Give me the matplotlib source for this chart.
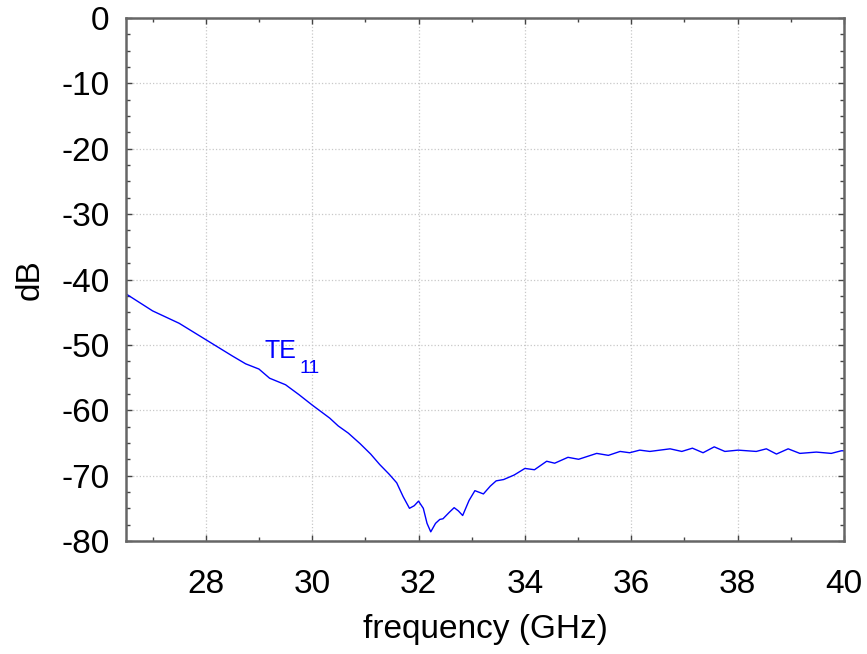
import matplotlib
matplotlib.use("Agg")
import matplotlib.pyplot as plt
from matplotlib.ticker import MultipleLocator

plt.rcParams['font.family'] = ['Liberation Sans', 'DejaVu Sans']
plt.rcParams['axes.unicode_minus'] = False

# TE11 reflection
freq = [26.5, 27.0, 27.5, 27.86, 28.0, 28.5, 28.75, 29.0, 29.2, 29.5, 29.75,
        30.0, 30.33, 30.49, 30.68, 30.9, 31.1, 31.27, 31.45, 31.59, 31.71, 31.83, 31.92, 32.0,
        32.09, 32.16, 32.23, 32.32, 32.4, 32.46, 32.58, 32.67, 32.75, 32.83, 32.95, 33.06, 33.22, 33.35, 33.46, 33.6,
        33.8, 34.0, 34.18, 34.41, 34.56, 34.81, 35.01, 35.35, 35.57, 35.79, 35.97,
        36.16, 36.35, 36.73, 36.95, 37.15, 37.35, 37.56, 37.76, 38.01, 38.35,
        38.54, 38.73, 38.95, 39.17, 39.48, 39.76, 39.95, 40.0]
te11 = [-42.2, -44.8, -46.7, -48.5, -49.2, -51.7, -52.9, -53.7, -55.1, -56.1, -57.6,
        -59.2, -61.2, -62.4, -63.5, -65.1, -66.7, -68.3, -69.8, -71.1, -73.2, -75.0, -74.6, -73.9,
        -75.0, -77.3, -78.6, -77.3, -76.7, -76.6, -75.6, -74.9, -75.4, -76.1, -73.8, -72.3, -72.8, -71.6, -70.8, -70.6,
        -69.9, -68.9, -69.1, -67.8, -68.1, -67.2, -67.5, -66.6, -66.9, -66.3, -66.5,
        -66.1, -66.3, -65.9, -66.3, -65.8, -66.5, -65.6, -66.3, -66.1, -66.3,
        -65.9, -66.7, -65.9, -66.6, -66.4, -66.6, -66.2, -66.2]

fig = plt.figure(figsize=(8.67, 6.54), dpi=100)
ax = fig.add_axes([126/867, 1 - 541/654, (844 - 126)/867, (541 - 18)/654])

ax.plot(freq, te11, color='#0000ff', lw=1.0)
ax.text(29.1, -52.0, 'TE', color='#0000ff', fontsize=18, va='baseline')
ax.text(29.76, -54.3, '11', color='#0000ff', fontsize=14, va='baseline')

ax.set_xlim(26.5, 40)
ax.set_ylim(-80, 0)
ax.xaxis.set_major_locator(MultipleLocator(2))
ax.xaxis.set_minor_locator(MultipleLocator(1))
ax.yaxis.set_major_locator(MultipleLocator(10))
ax.yaxis.set_minor_locator(MultipleLocator(2.5))
ax.grid(which='major', color='#c8c8c8', linestyle=':', lw=0.9)

for s in ax.spines.values():
    s.set_color('#666666')
    s.set_linewidth(1.8)
ax.tick_params(which='both', direction='in', top=True, right=True,
               color='#444444', labelsize=24)
ax.tick_params(axis='x', which='major', pad=20)
ax.tick_params(axis='y', which='major', pad=12)
ax.tick_params(which='major', length=4, width=1)
ax.tick_params(which='minor', length=3, width=1)

ax.set_xlabel('frequency (GHz)', fontsize=24, labelpad=10)
ax.set_ylabel('dB', fontsize=24, labelpad=11)

fig.savefig('out.png', dpi=100)
